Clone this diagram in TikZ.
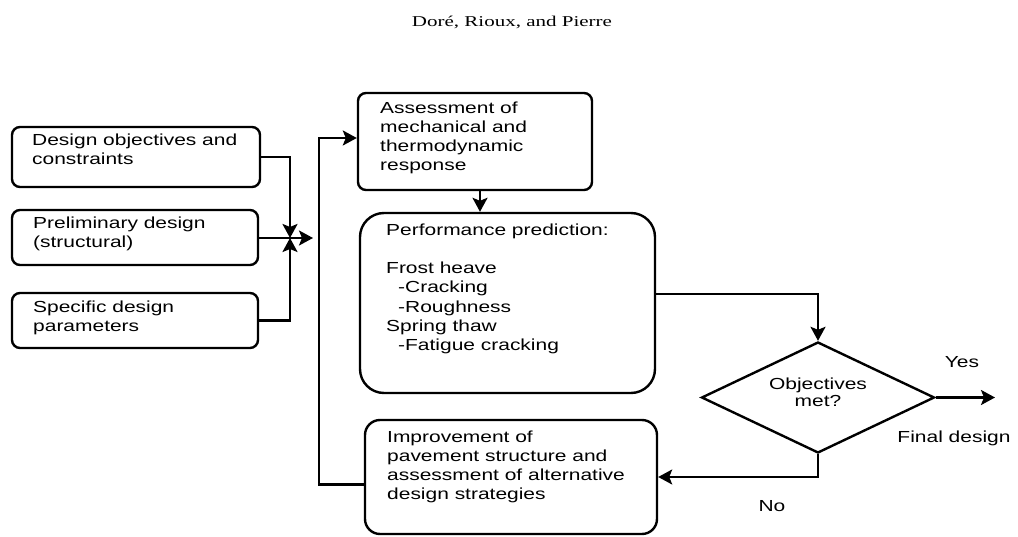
\documentclass[tikz,border=0pt]{standalone}
\usepackage{fontspec}
\setmainfont{Liberation Sans}[FakeStretch=1.31]
\newfontfamily\headfont{Liberation Serif}[FakeStretch=1.4]
\usetikzlibrary{arrows.meta,shapes.geometric,calc}

\tikzset{
  box/.style={draw, line width=2.4pt, rounded corners=8pt, inner sep=0pt},
  boxtext/.style={anchor=north west, inner sep=0pt, align=left,
    font=\fontsize{16}{19.3}\selectfont},
  lbl/.style={inner sep=0pt, font=\fontsize{16}{19.3}\selectfont},
  flow/.style={line width=2.4pt,
    -{Stealth[length=14pt, width=15pt, inset=3pt]}},
}

\begin{document}
\begin{tikzpicture}[x=1pt, y=-1pt]
  % page frame
  \fill[white] (0,0) rectangle (1018,537);
  \useasboundingbox (0,0) rectangle (1018,537);

  % running head
  \node[anchor=base, inner sep=0pt, font=\headfont\fontsize{15}{18}\selectfont]
    (head) at (512,27) {Doré, Rioux, and Pierre};

  % input boxes
  \node[box, minimum width=248pt, minimum height=60pt] (b1) at (136,157) {};
  \node[box, minimum width=246pt, minimum height=55pt] (b2) at (135,237.5) {};
  \node[box, minimum width=246pt, minimum height=55pt] (b3) at (135,320.5) {};
  \node[boxtext] (t1) at (32,133.3) {Design objectives and\\constraints};
  \node[boxtext] (t2) at (33,216.3) {Preliminary design\\(structural)};
  \node[boxtext] (t3) at (33,300.3) {Specific design\\parameters};

  % assessment
  \node[box, minimum width=234pt, minimum height=97pt] (as) at (475,141.5) {};
  \node[boxtext] (tas) at (380,101.3)
    {Assessment of\\mechanical and\\thermodynamic\\response};

  % performance prediction
  \node[box, rounded corners=24pt, minimum width=295pt, minimum height=180pt]
    (pp) at (507.5,303) {};
  \node[boxtext] (tpp) at (386,223.3)
    {Performance prediction:\\[19.3pt]Frost heave\\
     \hspace*{12pt}-Cracking\\\hspace*{12pt}-Roughness\\Spring thaw\\
     \hspace*{12pt}-Fatigue cracking};

  % improvement
  \node[box, rounded corners=15pt, minimum width=292pt, minimum height=114pt]
    (im) at (511,477) {};
  \node[boxtext] (tim) at (387,430.3)
    {Improvement of\\pavement structure and\\assessment of alternative\\design strategies};

  % decision
  \node[draw, line width=2.4pt, diamond, inner sep=0pt,
    minimum width=233pt, minimum height=111pt] (dia) at (818,397.5) {};
  \node[lbl, align=center, font=\fontsize{16}{17}\selectfont] (tdia) at (818,392)
    {Objectives\\met?};

  % merge point of the inputs
  \coordinate (m) at (290,238);
  \coordinate (mt) at (313,238);
  \draw[flow] (b1.east) -| (m);
  \draw[flow] (b3.east) -| (m);
  \draw[flow] (b2.east |- m) -- (mt);

  % loop back to the assessment
  \coordinate (fb) at (319,138);
  \draw[flow] ([yshift=-7.5pt]im.west) -| (fb) -- (fb -| as.west);

  % main chain
  \draw[flow] ([xshift=5pt]as.south) -- ([xshift=5pt]as.south |- pp.north);
  \draw[flow] ([yshift=9pt]pp.east) -| (dia.north);
  \coordinate (fin) at (995,397.5);
  \draw[flow] (dia.east) -- (fin);
  \draw[flow] (dia.south) |- (im.east);

  % branch labels
  \node[lbl] (yes) at (962,362) {Yes};
  \node[lbl] (fd) at (954,438) {Final design};
  \node[lbl] (no) at (772,506) {No};
\end{tikzpicture}
\end{document}
